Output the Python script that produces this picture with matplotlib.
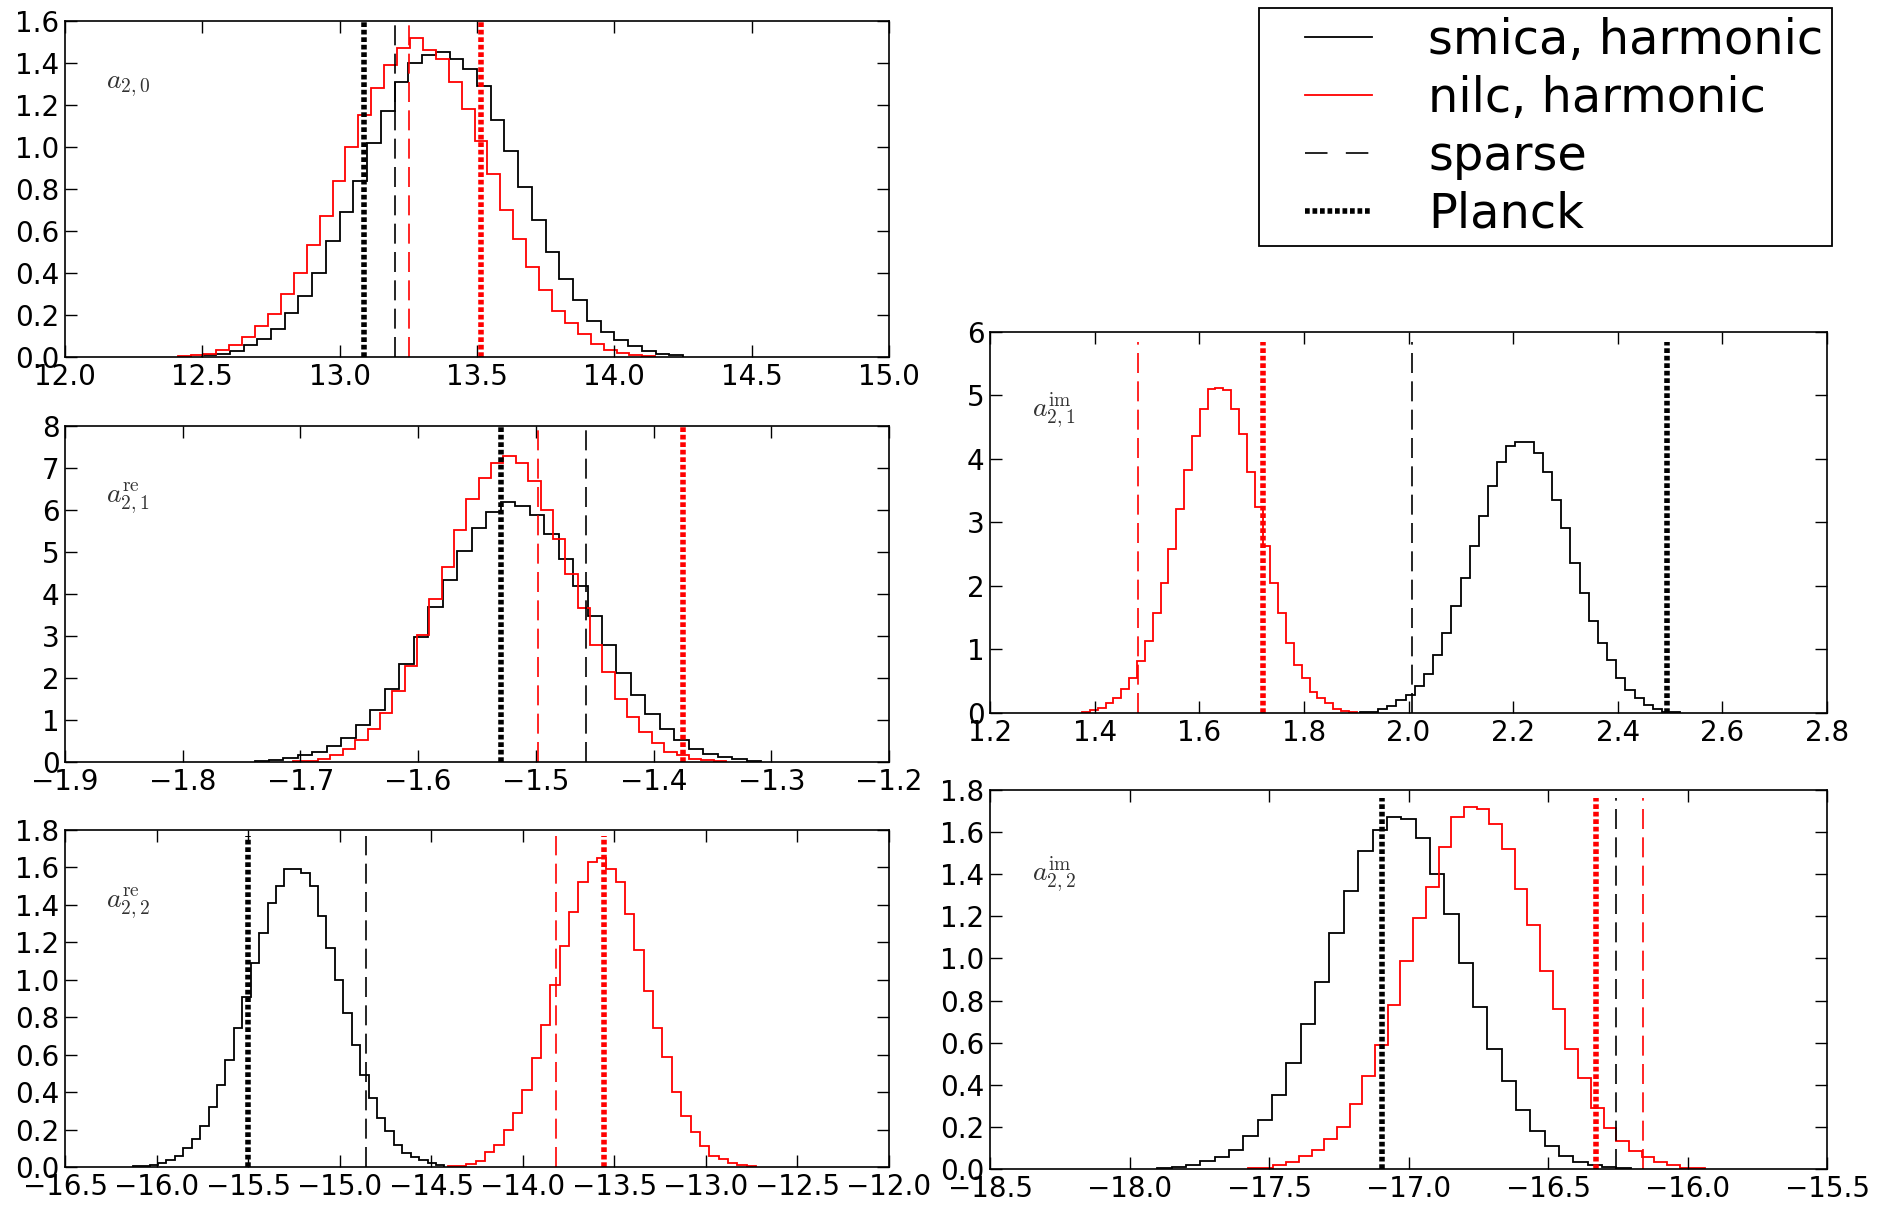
import numpy as np
import matplotlib
matplotlib.use("Agg")
import matplotlib.pyplot as plt
from matplotlib.lines import Line2D
from matplotlib.legend_handler import HandlerLine2D

plt.rcParams['mathtext.fontset'] = 'cm'
plt.rcParams['font.family'] = ['DejaVu Sans']

# ---- data: (first bin edge, bin width, bin heights) ----
# a_{2,0}
a20_smica_start, a20_smica_width = 12.50, 0.05
a20_smica = [0.008, 0.016, 0.03, 0.055, 0.087, 0.135, 0.21, 0.29, 0.40, 0.55, 0.69, 0.84,
             1.02, 1.17, 1.31, 1.40, 1.44, 1.45, 1.42, 1.37, 1.29, 1.13, 0.98, 0.81, 0.65,
             0.50, 0.37, 0.27, 0.17, 0.12, 0.08, 0.05, 0.03, 0.016, 0.008]
a20_nilc_start, a20_nilc_width = 12.41, 0.047
a20_nilc = [0.005, 0.008, 0.016, 0.032, 0.059, 0.095, 0.146, 0.203, 0.30, 0.40, 0.535, 0.67,
            0.84, 1.00, 1.15, 1.28, 1.39, 1.47, 1.52, 1.46, 1.42, 1.31, 1.18, 1.03, 0.87,
            0.70, 0.56, 0.43, 0.32, 0.22, 0.16, 0.11, 0.063, 0.032, 0.019, 0.011, 0.005]

# a^re_{2,1}
a21re_smica_start, a21re_smica_width = -1.739, 0.0123
a21re_smica = [0.024, 0.04, 0.095, 0.16, 0.25, 0.38, 0.57, 0.87, 1.25, 1.75, 2.34, 2.98,
               3.69, 4.33, 5.02, 5.56, 5.95, 6.19, 6.10, 5.87, 5.44, 4.83, 4.19, 3.47,
               2.78, 2.13, 1.60, 1.15, 0.79, 0.52, 0.32, 0.20, 0.12, 0.06, 0.03]
a21re_nilc_start, a21re_nilc_width = -1.706, 0.0105
a21re_nilc = [0.016, 0.03, 0.08, 0.17, 0.32, 0.52, 0.79, 1.17, 1.68, 2.29, 3.03, 3.87,
              4.64, 5.52, 6.25, 6.76, 7.13, 7.29, 7.13, 6.68, 6.01, 5.32, 4.48, 3.67,
              2.79, 2.14, 1.49, 1.07, 0.71, 0.46, 0.25, 0.17, 0.08, 0.04, 0.016]

# a^re_{2,2}
a22re_smica_start, a22re_smica_width = -16.13, 0.046
a22re_smica = [0.005, 0.007, 0.009, 0.021, 0.039, 0.061, 0.10, 0.15, 0.22, 0.32, 0.44, 0.57,
               0.74, 0.91, 1.09, 1.25, 1.41, 1.50, 1.59, 1.59, 1.57, 1.50, 1.34, 1.17,
               1.00, 0.82, 0.65, 0.49, 0.37, 0.26, 0.19, 0.12, 0.075, 0.053, 0.036, 0.021, 0.009]
a22re_nilc_start, a22re_nilc_width = -14.41, 0.051
a22re_nilc = [0.005, 0.007, 0.016, 0.034, 0.080, 0.12, 0.20, 0.29, 0.41, 0.58, 0.76, 0.97,
              1.18, 1.36, 1.52, 1.63, 1.65, 1.59, 1.52, 1.35, 1.16, 0.94, 0.74, 0.59,
              0.40, 0.27, 0.185, 0.114, 0.061, 0.043, 0.021, 0.009, 0.005]

# a^im_{2,1}
a21im_smica_start, a21im_smica_width = 1.907, 0.0175
a21im_smica = [0.01, 0.02, 0.063, 0.116, 0.21, 0.29, 0.43, 0.62, 0.92, 1.26, 1.69, 2.12,
               2.63, 3.11, 3.58, 3.95, 4.21, 4.27, 4.27, 4.09, 3.80, 3.36, 2.92, 2.37,
               1.89, 1.45, 1.11, 0.83, 0.55, 0.37, 0.23, 0.13, 0.063, 0.02, 0.01]
a21im_nilc_start, a21im_nilc_width = 1.376, 0.015
a21im_nilc = [0.016, 0.047, 0.08, 0.15, 0.23, 0.38, 0.55, 0.82, 1.13, 1.57, 2.04, 2.59,
              3.22, 3.83, 4.36, 4.79, 5.11, 5.12, 5.09, 4.79, 4.39, 3.79, 3.25, 2.63,
              2.05, 1.57, 1.11, 0.76, 0.55, 0.33, 0.23, 0.15, 0.07, 0.037, 0.016]

# a^im_{2,2}
a22im_smica_start, a22im_smica_width = -17.90, 0.0514
a22im_smica = [0.005, 0.01, 0.021, 0.036, 0.055, 0.092, 0.155, 0.234, 0.353, 0.503, 0.69,
               0.89, 1.12, 1.32, 1.51, 1.61, 1.67, 1.66, 1.57, 1.40, 1.21, 0.98, 0.77,
               0.57, 0.42, 0.28, 0.18, 0.11, 0.06, 0.032, 0.017, 0.008, 0.005]
a22im_nilc_start, a22im_nilc_width = -17.575, 0.0455
a22im_nilc = [0.003, 0.006, 0.017, 0.032, 0.06, 0.092, 0.142, 0.20, 0.31, 0.44, 0.59, 0.78,
              0.99, 1.19, 1.34, 1.53, 1.67, 1.72, 1.71, 1.64, 1.52, 1.33, 1.16, 0.94,
              0.76, 0.57, 0.43, 0.29, 0.195, 0.135, 0.084, 0.055, 0.032, 0.017, 0.006, 0.003]

# point estimates: sparse (dashed) and Planck (dotted), for smica / nilc
a20_lines = {'sparse_smica': 13.20, 'sparse_nilc': 13.253, 'planck_smica': 13.09, 'planck_nilc': 13.514}
a21re_lines = {'sparse_smica': -1.457, 'sparse_nilc': -1.498, 'planck_smica': -1.530, 'planck_nilc': -1.375}
a22re_lines = {'sparse_smica': -14.857, 'sparse_nilc': -13.82, 'planck_smica': -15.50, 'planck_nilc': -13.556}
a21im_lines = {'sparse_smica': 2.007, 'sparse_nilc': 1.483, 'planck_smica': 2.495, 'planck_nilc': 1.722}
a22im_lines = {'sparse_smica': -16.258, 'sparse_nilc': -16.16, 'planck_smica': -17.096, 'planck_nilc': -16.328}

DASH = (0, (12, 5))
DOT = (0, (0.85, 0.5))


def draw_panel(ax, smica, nilc, lines, line_top, label, lab_y):
    for (start, width, vals), col in ((smica, 'k'), (nilc, 'r')):
        edges = start + width * np.arange(len(vals) + 1)
        ax.stairs(vals, edges, color=col, lw=1.3)
    ax.vlines(lines['sparse_smica'], 0, line_top, color='k', lw=1.2, linestyle=DASH)
    ax.vlines(lines['sparse_nilc'], 0, line_top, color='r', lw=1.2, linestyle=DASH)
    ax.vlines(lines['planck_smica'], 0, line_top, color='k', lw=4, linestyle=DOT)
    ax.vlines(lines['planck_nilc'], 0, line_top, color='r', lw=4, linestyle=DOT)
    ax.text(0.05, lab_y, label, transform=ax.transAxes, fontsize=20, color='#333333')
    ax.tick_params(direction='in', top=True, right=True, length=8.5, width=1.0,
                   labelsize=20, pad=4)
    for s in ax.spines.values():
        s.set_linewidth(1.2)


fig = plt.figure(figsize=(18.81, 12.07), dpi=100)

ax1 = fig.add_axes([0.03456, 0.70423, 0.43806, 0.27838])
draw_panel(ax1, (a20_smica_start, a20_smica_width, a20_smica),
           (a20_nilc_start, a20_nilc_width, a20_nilc), a20_lines, 1.6, r'$a_{2,0}$', 0.80)
ax1.set_xlim(12, 15)
ax1.set_ylim(0, 1.6)
ax1.set_xticks(np.arange(12, 15.01, 0.5))
ax1.set_yticks(np.arange(0, 1.61, 0.2))
ax1.yaxis.set_major_formatter('{x:.1f}')
ax1.xaxis.set_major_formatter('{x:.1f}')

ax2 = fig.add_axes([0.03456, 0.36868, 0.43806, 0.27838])
draw_panel(ax2, (a21re_smica_start, a21re_smica_width, a21re_smica),
           (a21re_nilc_start, a21re_nilc_width, a21re_nilc), a21re_lines, 8, r'$a^{\rm re}_{2,1}$', 0.77)
ax2.set_xlim(-1.9, -1.2)
ax2.set_ylim(0, 8)
ax2.set_xticks(np.arange(-1.9, -1.19, 0.1))
ax2.set_yticks(range(0, 9))
ax2.xaxis.set_major_formatter('{x:.1f}')

ax3 = fig.add_axes([0.03456, 0.03314, 0.43806, 0.27920])
draw_panel(ax3, (a22re_smica_start, a22re_smica_width, a22re_smica),
           (a22re_nilc_start, a22re_nilc_width, a22re_nilc), a22re_lines, 1.77, r'$a^{\rm re}_{2,2}$', 0.77)
ax3.set_xlim(-16.5, -12.0)
ax3.set_ylim(0, 1.8)
ax3.set_xticks(np.arange(-16.5, -11.99, 0.5))
ax3.set_yticks(np.arange(0, 1.81, 0.2))
ax3.yaxis.set_major_formatter('{x:.1f}')
ax3.xaxis.set_major_formatter('{x:.1f}')

ax4 = fig.add_axes([0.52632, 0.40928, 0.44498, 0.31566])
draw_panel(ax4, (a21im_smica_start, a21im_smica_width, a21im_smica),
           (a21im_nilc_start, a21im_nilc_width, a21im_nilc), a21im_lines, 5.85, r'$a^{\rm im}_{2,1}$', 0.777)
ax4.set_xlim(1.2, 2.8)
ax4.set_ylim(0, 6)
ax4.set_xticks(np.arange(1.2, 2.81, 0.2))
ax4.set_yticks(range(0, 7))
ax4.xaxis.set_major_formatter('{x:.1f}')

ax5 = fig.add_axes([0.52632, 0.03148, 0.44498, 0.31400])
draw_panel(ax5, (a22im_smica_start, a22im_smica_width, a22im_smica),
           (a22im_nilc_start, a22im_nilc_width, a22im_nilc), a22im_lines, 1.76, r'$a^{\rm im}_{2,2}$', 0.76)
ax5.set_xlim(-18.5, -15.5)
ax5.set_ylim(0, 1.8)
ax5.set_xticks(np.arange(-18.5, -15.49, 0.5))
ax5.set_yticks(np.arange(0, 1.81, 0.2))
ax5.yaxis.set_major_formatter('{x:.1f}')
ax5.xaxis.set_major_formatter('{x:.1f}')

handles = [Line2D([], [], color='k', lw=1.3),
           Line2D([], [], color='r', lw=1.3),
           Line2D([], [], color='k', lw=1.2, linestyle=(0, (13.5, 11))),
           Line2D([], [], color='k', lw=4, linestyle=DOT)]
labels = ['smica, harmonic', 'nilc, harmonic', 'sparse', 'Planck']
leg = fig.legend(handles, labels, loc='upper right', bbox_to_anchor=(0.974, 0.9934),
                 borderaxespad=0, fontsize=34.5, labelspacing=0.23, borderpad=0.18,
                 handlelength=2.96, handletextpad=0.4, numpoints=2,
                 handler_map={Line2D: HandlerLine2D(marker_pad=0.78)},
                 fancybox=False, framealpha=1, edgecolor='k')
leg.get_frame().set_linewidth(1.3)

fig.savefig('out.png', dpi=100)
